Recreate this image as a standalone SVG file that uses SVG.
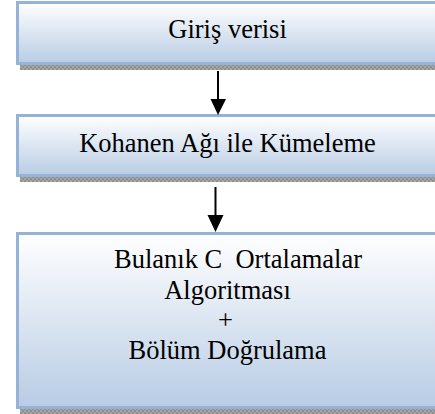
<svg xmlns="http://www.w3.org/2000/svg" width="435" height="414" viewBox="0 0 435 414">
<defs>
<linearGradient id="fill" x1="0" y1="0" x2="0" y2="1">
<stop offset="0" stop-color="#ffffff"/>
<stop offset="1" stop-color="#b8cce4"/>
</linearGradient>
<pattern id="shade" width="4" height="4" patternUnits="userSpaceOnUse">
<rect width="4" height="4" fill="#a6a6a6"/>
<rect width="2" height="2" fill="#8f8f8f"/>
<rect x="2" y="2" width="2" height="2" fill="#8f8f8f"/>
</pattern>
</defs>
<style>
.box{fill:url(#fill);stroke:#95b3d7;stroke-width:3}
.shadow{fill:url(#shade)}
.t{font-size:26.5px;fill:#000;text-anchor:middle}
.conn{stroke:#000;stroke-width:2;fill:none}
.head{fill:#000}
</style>
<g id="node-giris">
<rect class="shadow" x="20" y="65" width="420" height="5"/>
<rect class="box" x="17.5" y="2.5" width="430" height="61"/>
<text class="t" font-family="Liberation Serif, serif" x="227.5" y="38">Giriş verisi</text>
</g>
<g id="node-kohanen">
<rect class="shadow" x="20" y="177" width="420" height="5"/>
<rect class="box" x="17.5" y="115.5" width="430" height="60"/>
<text class="t" font-family="Liberation Serif, serif" x="227.5" y="152">Kohanen Ağı ile Kümeleme</text>
</g>
<g id="node-bulanik" font-family="Liberation Serif, serif">
<rect class="shadow" x="20" y="409" width="420" height="5"/>
<rect class="box" x="17.5" y="233.5" width="430" height="174"/>
<text class="t" x="238" y="268" xml:space="preserve">Bulanık C  Ortalamalar</text>
<text class="t" x="227.5" y="299">Algoritması</text>
<text class="t" x="225.5" y="329">+</text>
<text class="t" x="227.5" y="359">Bölüm Doğrulama</text>
</g>
<g id="connectors">
<line class="conn" x1="218" y1="71" x2="218" y2="100"/>
<polygon class="head" points="210.5,99 226,99 218,115"/>
<line class="conn" x1="215.5" y1="187" x2="215.5" y2="216"/>
<polygon class="head" points="207.5,215 223.5,215 215.5,232"/>
</g>
</svg>
